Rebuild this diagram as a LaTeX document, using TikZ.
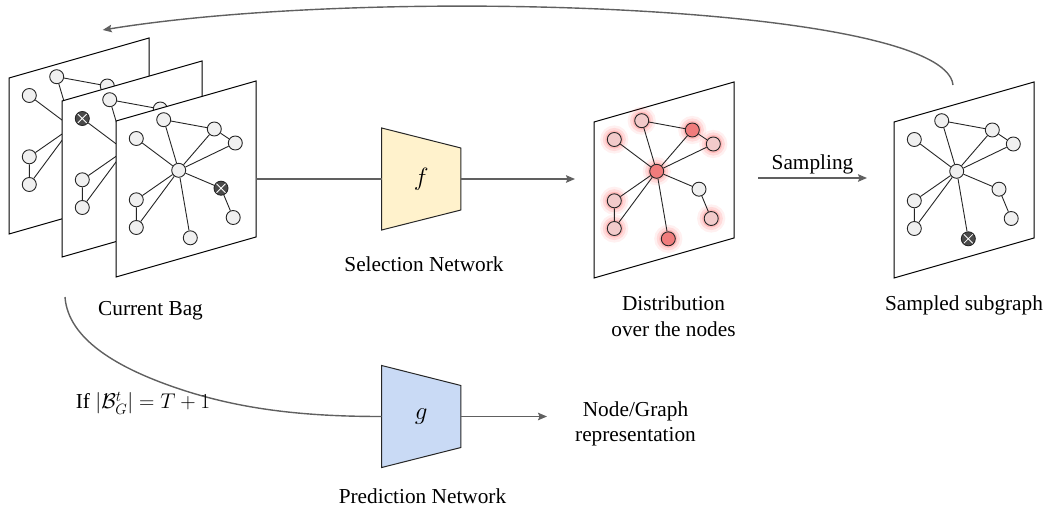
\RequirePackage{fix-cm}
\documentclass[tikz,border=0pt]{standalone}
\usepackage{fontspec}
\setmainfont{Liberation Serif}
\usetikzlibrary{arrows.meta}
\definecolor{flowgray}{HTML}{606060}
\definecolor{vfill}{HTML}{F0F0F0}
\definecolor{xfill}{HTML}{4A4A4A}
\definecolor{hotfill}{HTML}{F07C7C}
\definecolor{warmfill}{HTML}{F2CACA}
\definecolor{selfill}{HTML}{FFF2CC}
\definecolor{predfill}{HTML}{C9DAF5}
\begin{document}
\begin{tikzpicture}[x=1pt,y=-1pt,
  every node/.style={font=\fontsize{21.3}{25.5}\selectfont},
  flow/.style={draw=flowgray,line width=1.4pt},
  >={Stealth[length=9pt,width=7.5pt,inset=1.5pt]},
  vtx/.style={circle,draw=black!85,fill=vfill,line width=0.9pt,minimum size=14pt,inner sep=0pt},
  crossed/.style={vtx,fill=xfill,path picture={\draw[white,line width=0.8pt] (path picture bounding box.south west) -- (path picture bounding box.north east) (path picture bounding box.north west) -- (path picture bounding box.south east);}},
  glow/.style={preaction={draw=red,draw opacity=0.06,line width=14pt},preaction={draw=red,draw opacity=0.09,line width=9pt},preaction={draw=red,draw opacity=0.14,line width=4pt}},
  hot/.style={vtx,fill=hotfill,glow},
  warm/.style={vtx,fill=warmfill,glow},
  gline/.style={line width=0.9pt,black!85},
  va/.style=vtx,vb/.style=vtx,vc/.style=vtx,vd/.style=vtx,ve/.style=vtx,
  vf/.style=vtx,vg/.style=vtx,vh/.style=vtx,vi/.style=vtx,vj/.style=vtx,
  netfill/.style={},
  panel/.pic={
    \draw[fill=white,line width=1pt] (0,0) -- (140,-40) -- (140,116) -- (0,156) -- cycle;
    \node[va] (-a) at (47.7,-1.3) {};
    \node[vb] (-b) at (20.3,17.5) {};
    \node[vc] (-c) at (98.3,8) {};
    \node[vd] (-d) at (119.3,22) {};
    \node[ve] (-e) at (62.7,49.3) {};
    \node[vf] (-f) at (105,67.2) {};
    \node[vg] (-g) at (117.2,96.5) {};
    \node[vh] (-h) at (20.3,78.8) {};
    \node[vi] (-i) at (20.3,106.5) {};
    \node[vj] (-j) at (74.3,116.8) {};
    \draw[gline] (-a) -- (-c) (-c) -- (-d) (-a) -- (-e) (-b) -- (-e) (-c) -- (-e) (-d) -- (-e)
      (-e) -- (-f) (-f) -- (-g) (-e) -- (-h) (-h) -- (-i) (-e) -- (-i) (-e) -- (-j);
    \coordinate (-out) at (140,58);
  },
  netbox/.pic={
    \draw[line width=1pt,draw=black!85,netfill] (-39.6,-51) -- (39.6,-31) -- (39.6,31) -- (-39.6,51) -- cycle;
    \node[minimum width=79.2pt,minimum height=102pt,inner sep=0pt,font=\fontsize{25}{30}\selectfont] (-c) {#1};
  }]
\useasboundingbox (0,0) rectangle (1048,508);

\pic (bag1) at (9,78) {panel};
\pic[vb/.style=crossed] (bag2) at (62,101) {panel};
\pic[vf/.style=crossed] (bag3) at (116,121) {panel};
\pic[va/.style=warm,vb/.style=warm,vc/.style=hot,vd/.style=warm,ve/.style=hot,
  vg/.style=warm,vh/.style=warm,vi/.style=warm,vj/.style=hot] (dist) at (594,122) {panel};
\pic[vj/.style=crossed] (samp) at (894,122) {panel};

\pic[netfill/.style={fill=selfill}] (sel) at (421.3,179) {netbox={$f$}};
\pic[netfill/.style={fill=predfill}] (pred) at (421.3,416.5) {netbox={$g$}};

\coordinate (dist-arr) at (575,179);
\coordinate (smp-a) at (758,178);
\coordinate (smp-b) at (867,178);
\coordinate (loop-a) at (953,85);
\coordinate (loop-b) at (102.7,30);
\coordinate (exit-a) at (65,297);
\coordinate (exit-b) at (547,416.5);

\draw[flow] (bag3-out) -- (sel-c);
\draw[flow,->] (sel-c) -- (dist-arr);
\draw[flow,->] (smp-a) -- node[above] (smp-lbl) {Sampling} (smp-b);
\draw[flow,->] (loop-a) .. controls (945,5) and (380,-15) .. (loop-b);
\draw[flow] (exit-a) .. controls (68,340) and (120,366.7) .. (160,382) .. controls (230,408.8) and (300,416.5) .. (pred-c);
\draw[flow,->] (pred-c) -- (exit-b);

\node (bag-lbl) at (150.5,311) {Current Bag};
\node (sel-lbl) at (424,264.5) {Selection Network};
\node[align=center] (dist-lbl) at (673.5,316) {Distribution\\over the nodes};
\node (samp-lbl) at (964,305.7) {Sampled subgraph};
\node[align=center] (rep-lbl) at (635.5,424) {Node/Graph\\representation};
\node (pred-lbl) at (422.5,496) {Prediction Network};
\node (cond-lbl) at (143,403) {If $|\mathcal{B}^t_G| = T+1$};
\end{tikzpicture}
\end{document}
